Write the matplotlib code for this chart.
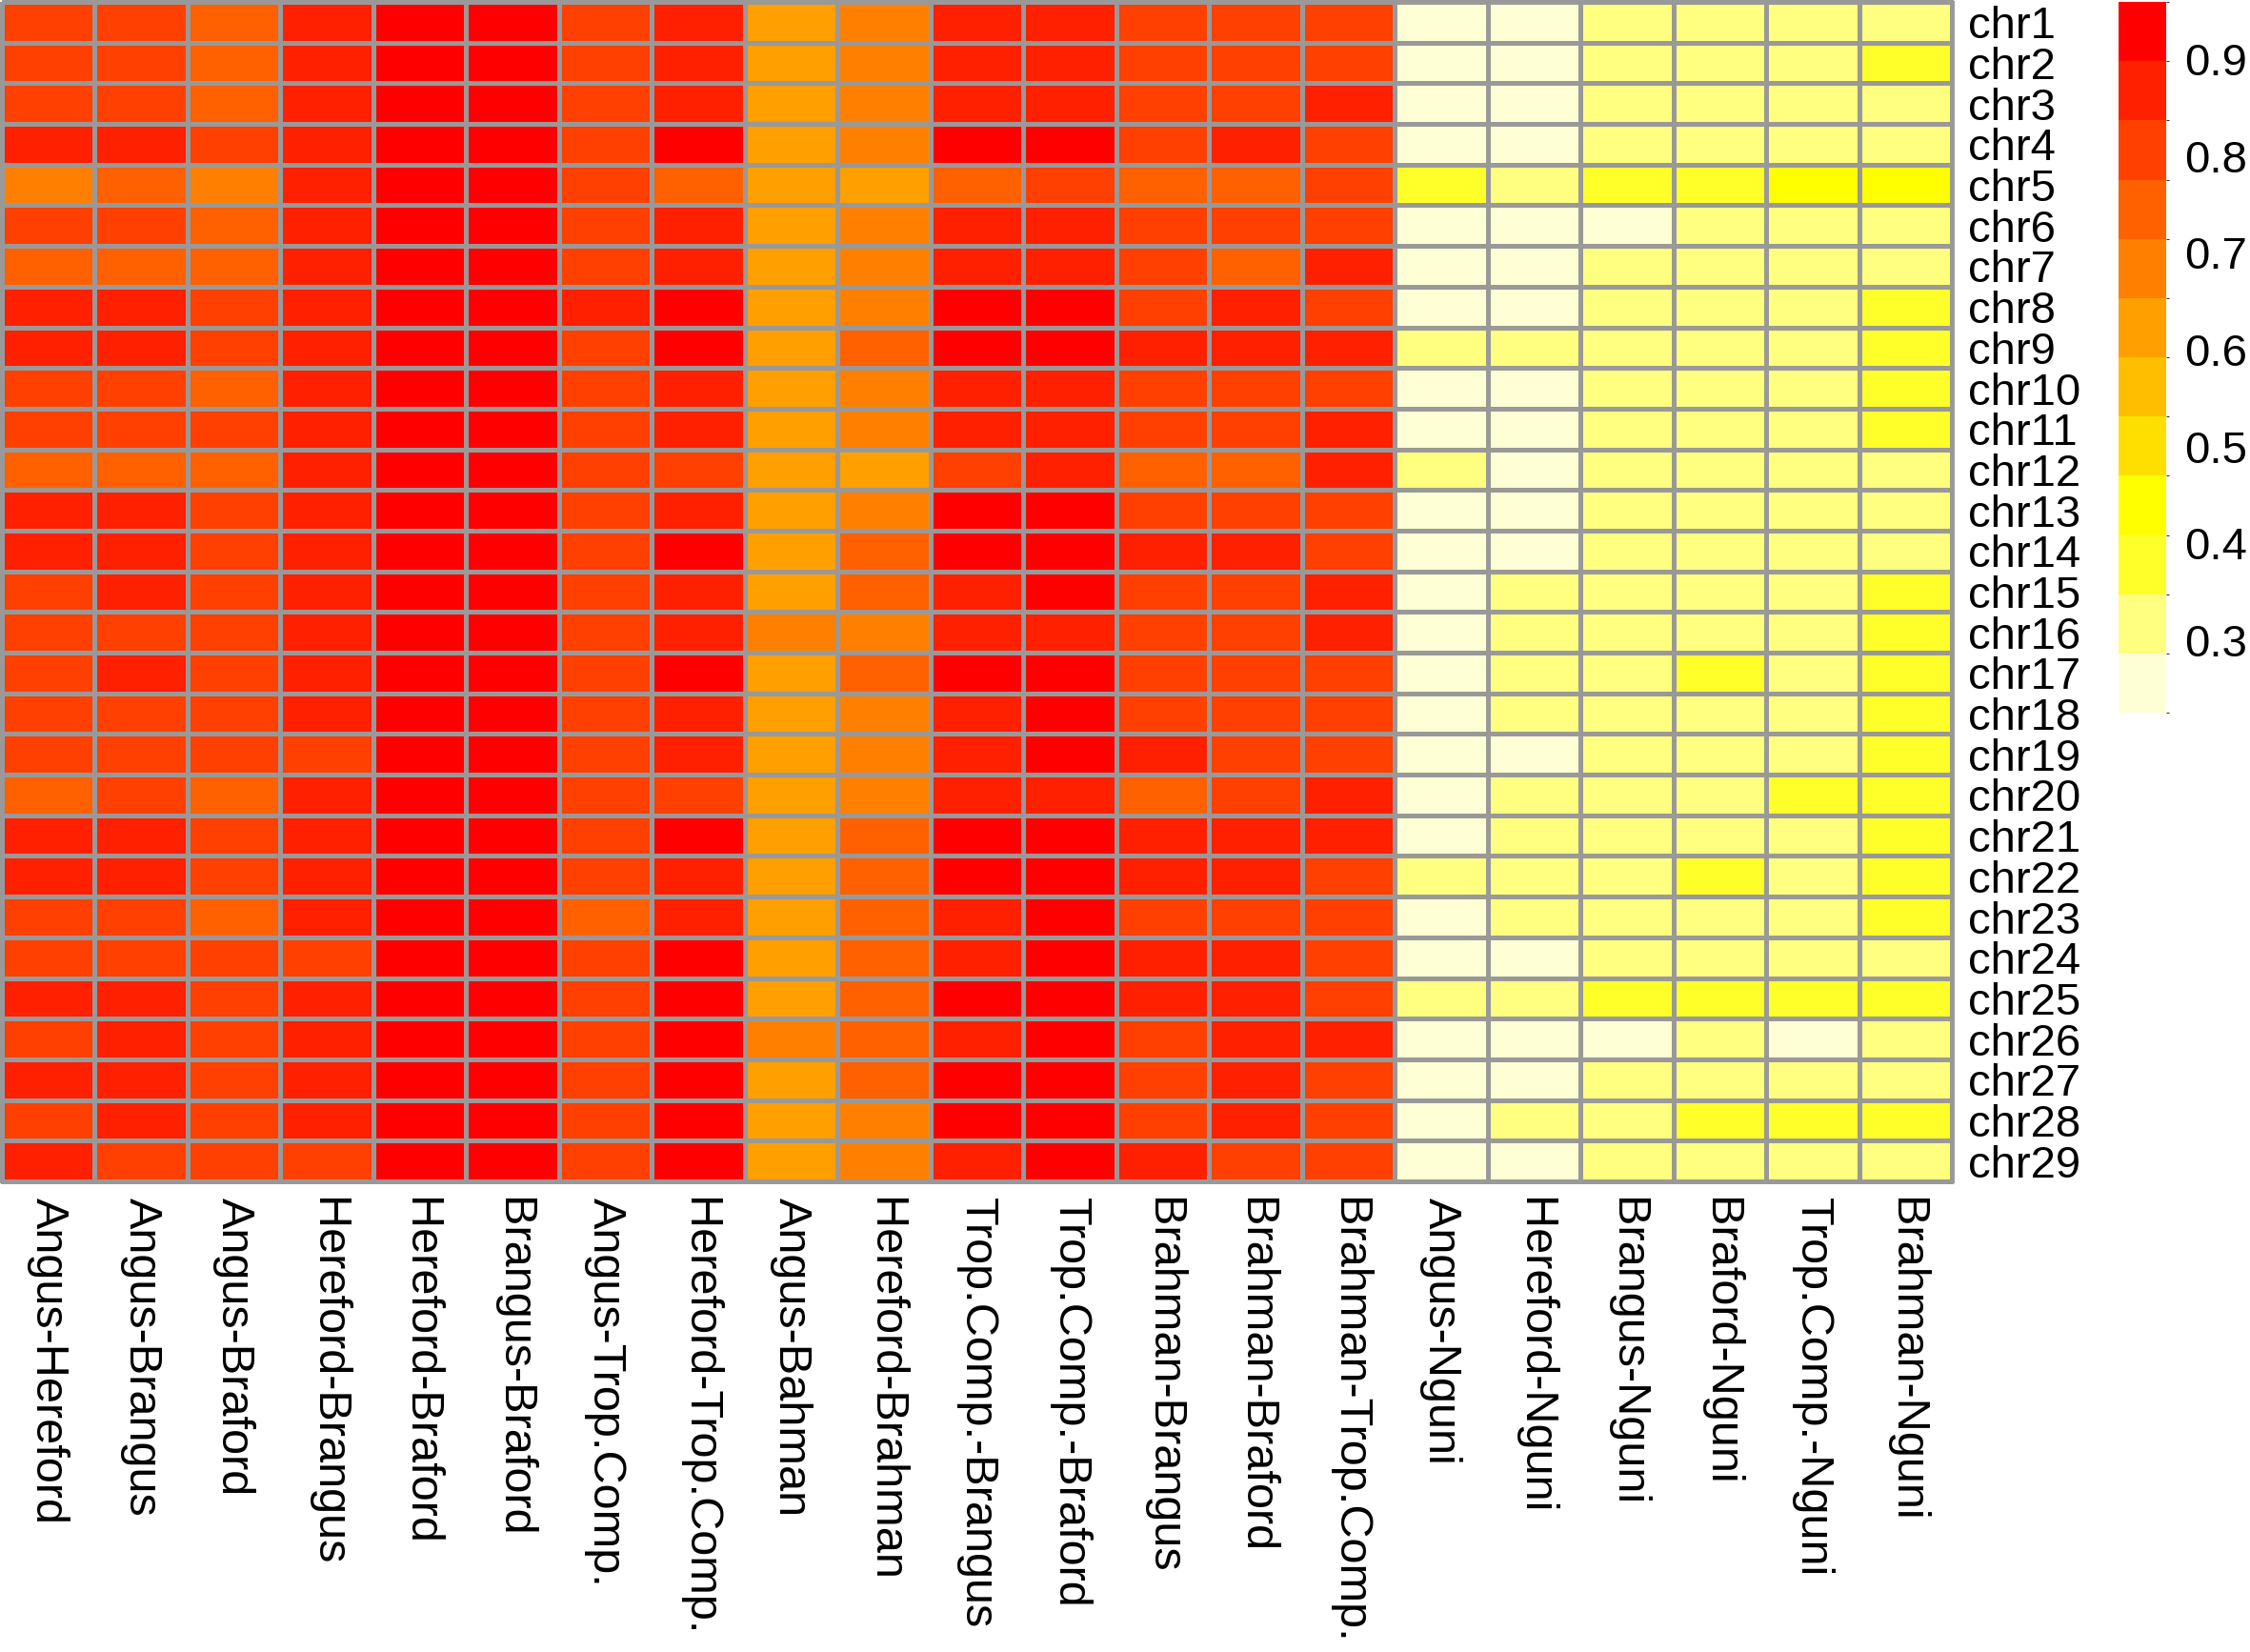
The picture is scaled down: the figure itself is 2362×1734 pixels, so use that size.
import numpy as np
import matplotlib
matplotlib.use("Agg")
import matplotlib.pyplot as plt
from matplotlib.colors import ListedColormap, BoundaryNorm

plt.rcParams['font.family'] = ['Liberation Sans', 'DejaVu Sans']

# breed pairs (columns) and chromosomes (rows)
pairs = ["Angus-Hereford", "Angus-Brangus", "Angus-Braford", "Hereford-Brangus",
         "Hereford-Braford", "Brangus-Braford", "Angus-Trop.Comp.", "Hereford-Trop.Comp.",
         "Angus-Bahman", "Hereford-Brahman", "Trop.Comp.-Brangus", "Trop.Comp.-Braford",
         "Brahman-Brangus", "Brahman-Braford", "Brahman-Trop.Comp.", "Angus-Nguni",
         "Hereford-Nguni", "Brangus-Nguni", "Braford-Nguni", "Trop.Comp.-Nguni",
         "Brahman-Nguni"]
chroms = [f"chr{i}" for i in range(1, 30)]

# values, one list per chromosome
chr1 = [.81, .81, .75, .87, .93, .93, .81, .87, .62, .68, .87, .87, .81, .81, .81, .26, .26, .32, .32, .32, .32]
chr2 = [.81, .81, .75, .87, .93, .93, .81, .87, .62, .68, .87, .87, .81, .81, .81, .26, .26, .32, .32, .32, .38]
chr3 = [.81, .81, .75, .87, .93, .93, .81, .87, .62, .68, .87, .87, .81, .81, .87, .26, .26, .32, .32, .32, .32]
chr4 = [.87, .87, .81, .87, .93, .93, .81, .93, .62, .68, .93, .93, .81, .87, .81, .26, .26, .32, .32, .32, .32]
chr5 = [.68, .75, .68, .87, .93, .93, .81, .75, .62, .62, .75, .81, .75, .75, .81, .38, .32, .38, .38, .44, .44]
chr6 = [.81, .81, .75, .87, .93, .93, .81, .87, .62, .68, .87, .87, .81, .81, .81, .26, .26, .26, .32, .32, .32]
chr7 = [.75, .75, .75, .87, .93, .93, .81, .87, .62, .68, .87, .87, .81, .75, .87, .26, .26, .32, .32, .32, .32]
chr8 = [.87, .87, .81, .87, .93, .93, .87, .93, .62, .68, .93, .93, .81, .87, .81, .26, .26, .32, .32, .32, .38]
chr9 = [.87, .87, .81, .87, .93, .93, .81, .93, .62, .75, .93, .93, .87, .87, .87, .32, .32, .32, .32, .32, .38]
chr10 = [.81, .81, .75, .87, .93, .93, .81, .87, .62, .68, .87, .87, .81, .81, .81, .26, .26, .32, .32, .32, .38]
chr11 = [.81, .81, .81, .87, .93, .93, .81, .87, .62, .68, .87, .87, .81, .81, .87, .26, .26, .32, .32, .32, .38]
chr12 = [.75, .75, .75, .87, .93, .93, .81, .81, .62, .62, .81, .87, .75, .75, .87, .32, .26, .32, .32, .32, .32]
chr13 = [.87, .87, .81, .87, .93, .93, .81, .87, .62, .68, .93, .93, .81, .81, .81, .26, .26, .32, .32, .32, .32]
chr14 = [.87, .87, .81, .87, .93, .93, .81, .93, .62, .75, .93, .93, .87, .87, .81, .26, .26, .32, .32, .32, .32]
chr15 = [.81, .87, .81, .87, .93, .93, .81, .87, .62, .75, .87, .93, .81, .81, .87, .26, .32, .32, .32, .32, .38]
chr16 = [.81, .81, .81, .87, .93, .93, .81, .87, .68, .68, .87, .87, .81, .81, .87, .26, .32, .32, .32, .32, .38]
chr17 = [.81, .87, .81, .87, .93, .93, .81, .93, .62, .75, .93, .93, .81, .81, .81, .26, .32, .32, .38, .32, .38]
chr18 = [.81, .81, .81, .87, .93, .93, .81, .87, .62, .68, .87, .93, .81, .81, .81, .26, .32, .32, .32, .32, .38]
chr19 = [.81, .81, .81, .81, .93, .93, .81, .87, .62, .68, .87, .93, .87, .81, .81, .26, .26, .32, .32, .32, .38]
chr20 = [.75, .81, .75, .87, .93, .93, .81, .81, .62, .68, .87, .87, .75, .81, .87, .26, .32, .32, .32, .38, .38]
chr21 = [.87, .87, .81, .87, .93, .93, .81, .93, .62, .75, .93, .93, .87, .87, .87, .26, .32, .32, .32, .32, .38]
chr22 = [.87, .87, .81, .87, .93, .93, .81, .87, .62, .75, .93, .93, .87, .87, .81, .32, .32, .32, .38, .32, .38]
chr23 = [.81, .81, .75, .87, .93, .93, .75, .87, .62, .75, .87, .93, .81, .81, .81, .26, .32, .32, .32, .32, .38]
chr24 = [.81, .81, .81, .81, .93, .93, .81, .93, .62, .75, .87, .93, .87, .87, .81, .26, .26, .32, .32, .32, .32]
chr25 = [.87, .87, .81, .87, .93, .93, .81, .93, .62, .75, .93, .93, .87, .87, .81, .32, .32, .38, .38, .38, .38]
chr26 = [.81, .87, .81, .87, .93, .93, .81, .93, .68, .75, .87, .93, .81, .87, .87, .26, .26, .26, .32, .26, .32]
chr27 = [.87, .87, .81, .87, .93, .93, .81, .93, .62, .75, .93, .93, .81, .87, .81, .26, .26, .32, .32, .32, .32]
chr28 = [.81, .87, .81, .87, .93, .93, .81, .93, .62, .68, .93, .93, .81, .87, .81, .26, .32, .32, .38, .38, .38]
chr29 = [.87, .81, .81, .81, .93, .93, .81, .93, .62, .68, .87, .93, .87, .81, .81, .26, .26, .32, .32, .32, .32]

values = np.array([chr1, chr2, chr3, chr4, chr5, chr6, chr7, chr8, chr9, chr10,
                   chr11, chr12, chr13, chr14, chr15, chr16, chr17, chr18, chr19, chr20,
                   chr21, chr22, chr23, chr24, chr25, chr26, chr27, chr28, chr29])

# R heat.colors(12), reversed (low = pale yellow, high = red)
heat = ["#FFFFD5", "#FFFF80", "#FFFF2A", "#FFFF00", "#FFDF00", "#FFBF00",
        "#FF9F00", "#FF8000", "#FF6000", "#FF4000", "#FF2000", "#FF0000"]
breaks = np.linspace(0.2253, 0.959, len(heat) + 1)
cmap = ListedColormap(heat)
norm = BoundaryNorm(breaks, cmap.N)

W, H = 2362, 1734
fig = plt.figure(figsize=(W / 100, H / 100), dpi=100)

# heatmap
ax = fig.add_axes([2 / W, 1 - 1240 / H, 2047 / W, 1238 / H])
mesh = ax.pcolormesh(values, cmap=cmap, norm=norm, edgecolors='#999999', linewidth=2.5)
mesh.set_clip_on(False)
ax.set_xlim(0, values.shape[1])
ax.set_ylim(values.shape[0], 0)
for s in ax.spines.values():
    s.set_visible(False)

ax.set_xticks(np.arange(len(pairs)) + 0.5)
ax.set_xticklabels(pairs, rotation=270, fontsize=35)
ax.set_yticks(np.arange(len(chroms)) + 0.5)
ax.set_yticklabels(chroms, fontsize=34)
ax.yaxis.tick_right()
ax.tick_params(axis='x', length=0, pad=12)
ax.tick_params(axis='y', length=0, pad=12)

# legend colour bar
cax = fig.add_axes([2224 / W, 1 - 748 / H, 50 / W, 746 / H])
cb = fig.colorbar(mesh, cax=cax, ticks=[0.3, 0.4, 0.5, 0.6, 0.7, 0.8, 0.9], spacing='proportional')
cb.outline.set_visible(False)
cb.ax.tick_params(length=0, pad=14, labelsize=34)
cb.ax.set_yticklabels(["0.3", "0.4", "0.5", "0.6", "0.7", "0.8", "0.9"])

fig.savefig("out.png", dpi=100)
